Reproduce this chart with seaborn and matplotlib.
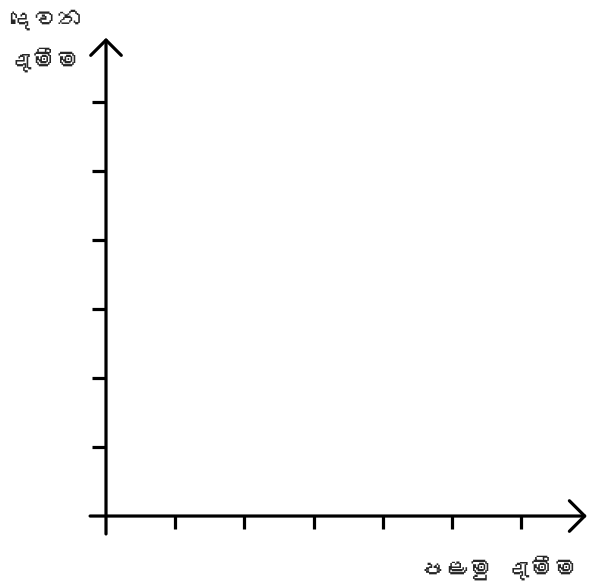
import numpy as np
import matplotlib
matplotlib.use('Agg')
import matplotlib.pyplot as plt
import seaborn as sns
from matplotlib import font_manager
from matplotlib.ft2font import FT2Font

# data: tick positions on both axes
x_ticks = [1, 2, 3, 4, 5, 6]
y_ticks = [1, 2, 3, 4, 5, 6]
x_label = 'පළමු දැමීම'
y_label = ['දෙවන', 'දැමීම']


def find_sinhala_font():
    # look for any installed font that carries Sinhala glyphs
    for f in font_manager.fontManager.ttflist:
        try:
            cmap = FT2Font(f.fname).get_charmap()
        except Exception:
            continue
        if 0x0DB4 in cmap and 0x0DB8 in cmap:
            return f.name
    return None


sns.set_theme(style='white')
si_font = find_sinhala_font()
families = ([si_font] if si_font else []) + ['DejaVu Sans']
plt.rcParams['font.family'] = families

fig = plt.figure(figsize=(5.89, 5.88), dpi=100)
ax = fig.add_axes([0, 0, 1, 1])
ax.set_xlim(-1.532, 6.98)
ax.set_ylim(-1.043, 7.478)
ax.axis('off')

lw = 2.3
arrow = dict(arrowstyle='->, head_length=0.55, head_width=0.55', lw=lw,
             color='black', mutation_scale=20, shrinkA=0, shrinkB=0)
ax.annotate('', xy=(6.95, 0), xytext=(-0.23, 0), arrowprops=arrow)
ax.annotate('', xy=(0, 6.93), xytext=(0, -0.26), arrowprops=arrow)

ax.vlines(x_ticks, -0.19, 0, color='black', lw=lw)
ax.hlines(y_ticks, -0.2, 0, color='black', lw=lw)

fs = 17.5
ax.text(-1.39, 7.19, y_label[0], fontsize=fs, style='italic', ha='left', va='center')
ax.text(-1.42, 6.61, y_label[1], fontsize=fs, style='italic', ha='left', va='center')
ax.text(6.82, -0.754, x_label, fontsize=fs, style='italic', ha='right', va='center')

fig.savefig('out.png', dpi=100)
